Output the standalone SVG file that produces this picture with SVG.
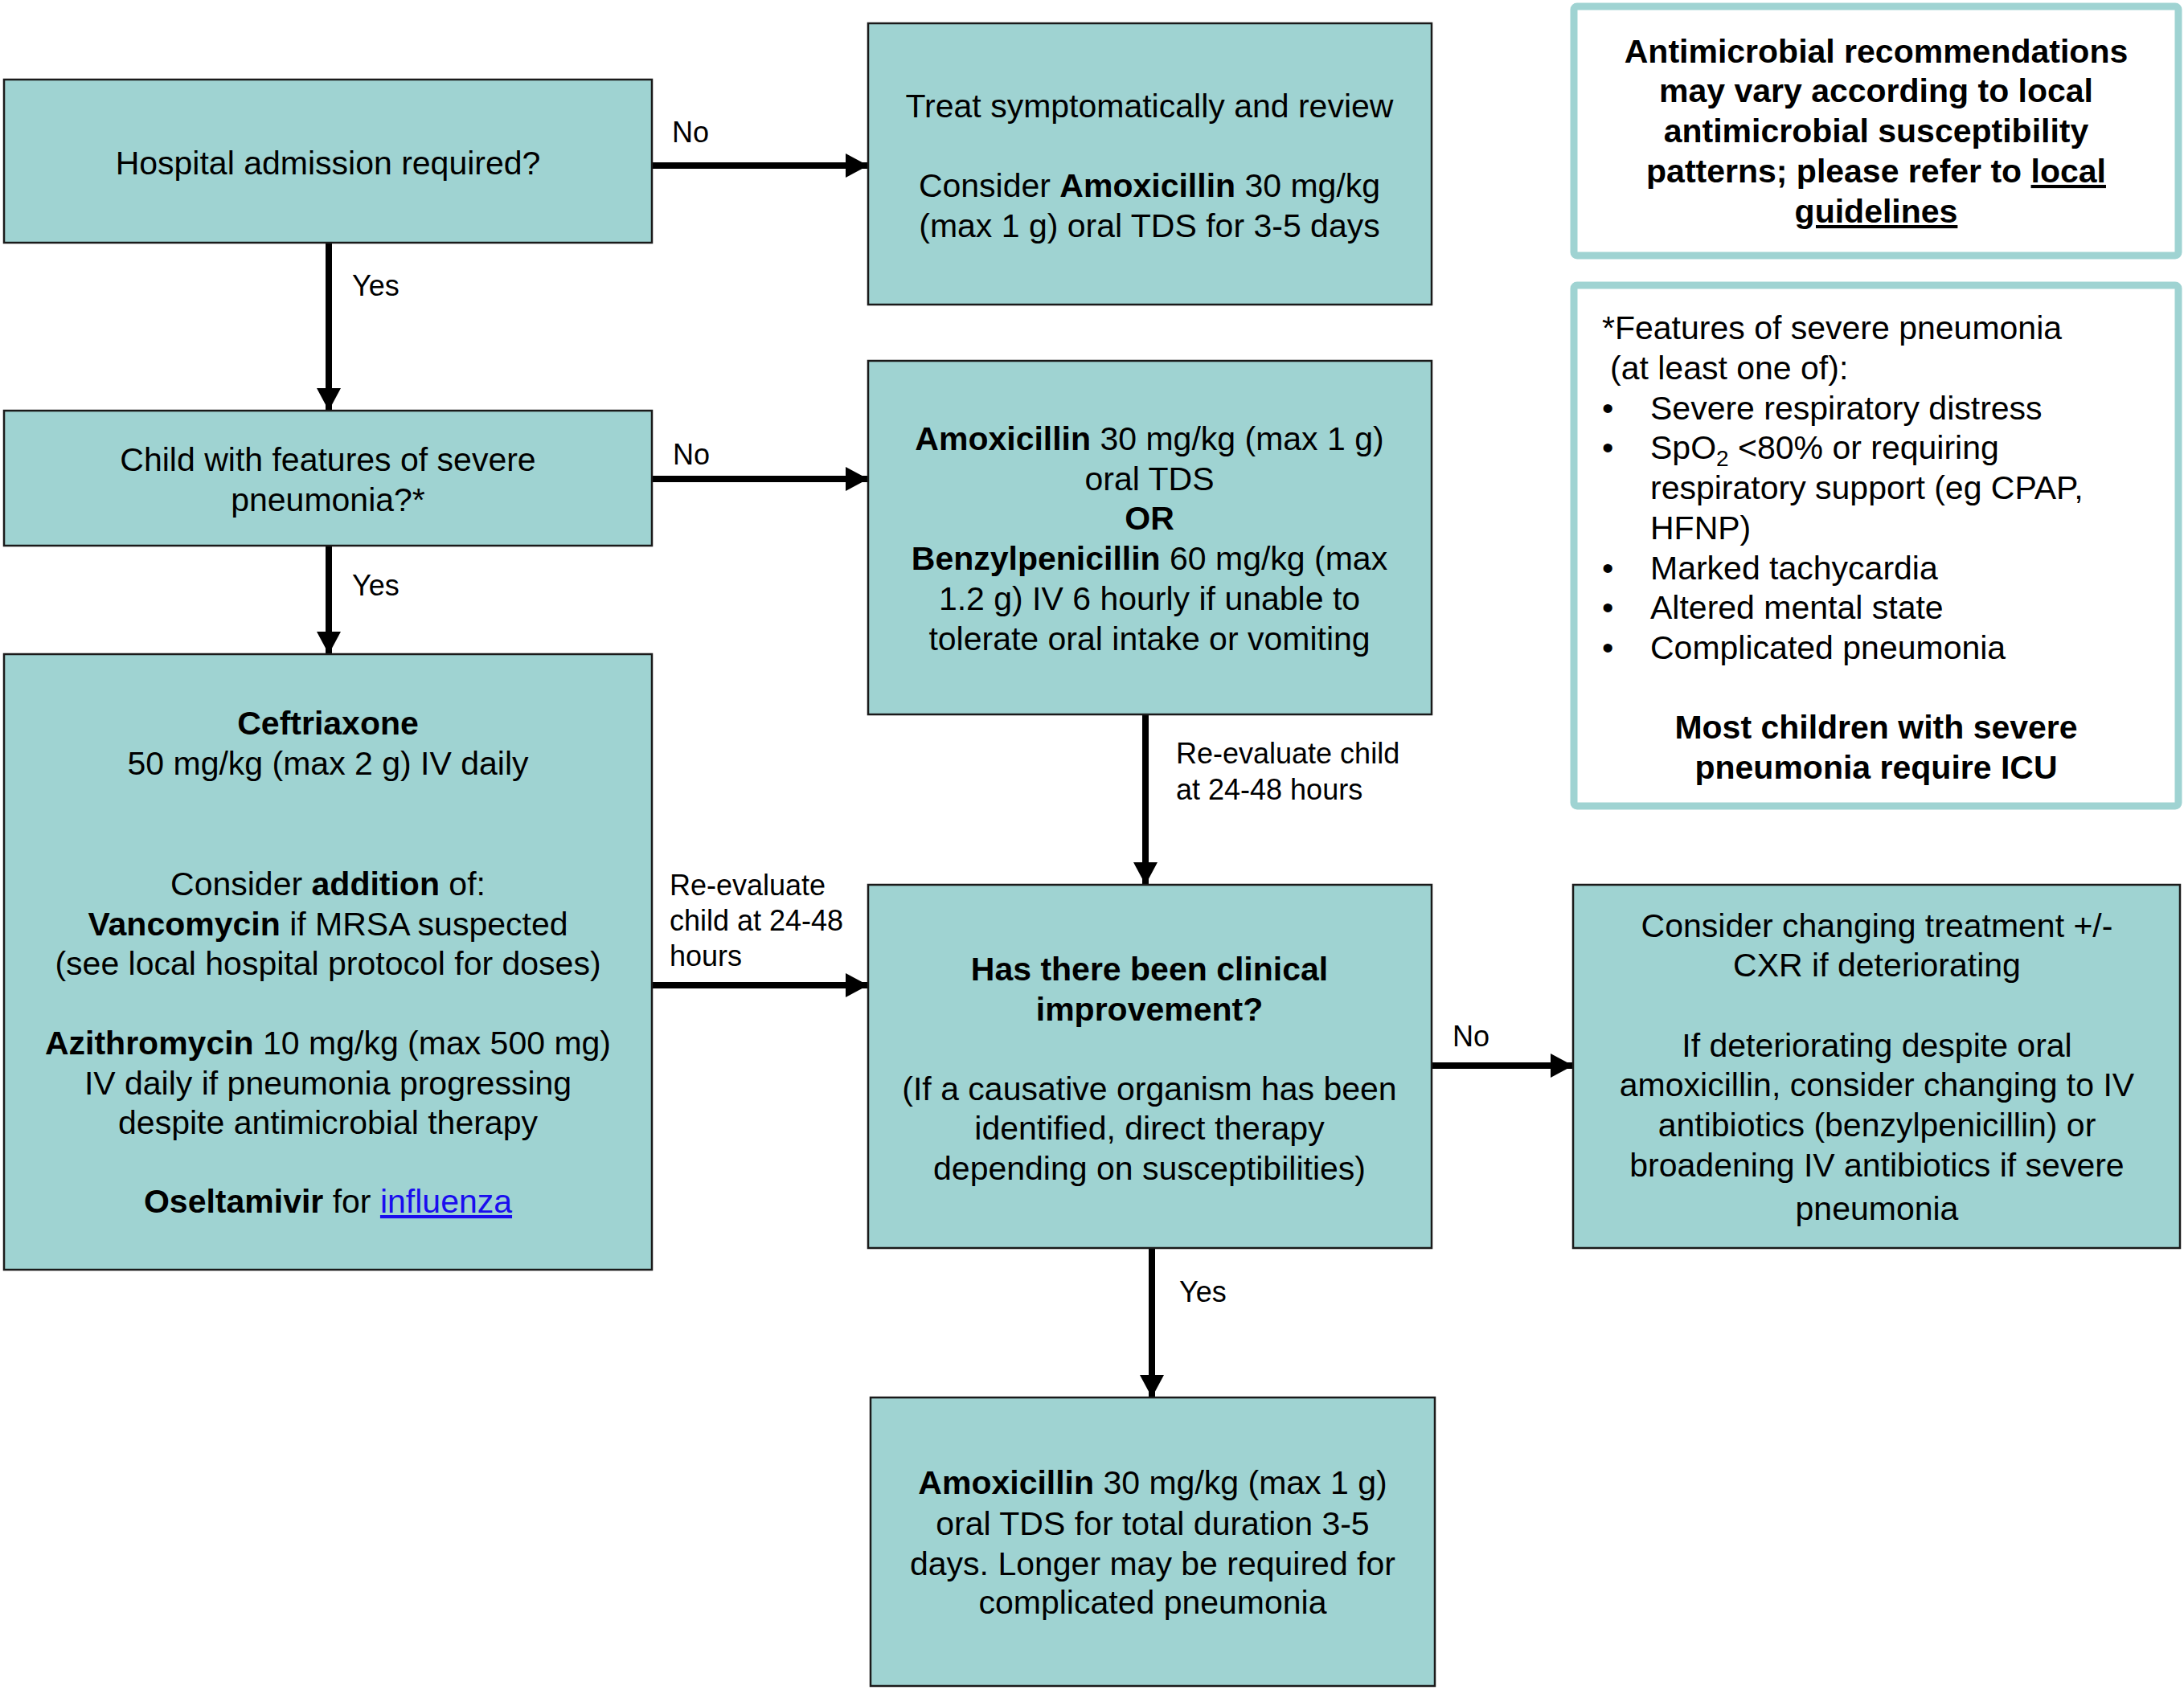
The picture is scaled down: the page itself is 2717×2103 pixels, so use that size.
<svg xmlns="http://www.w3.org/2000/svg" width="2717" height="2103" viewBox="0 0 2717 2103">
<style>
text{font-family:"Liberation Sans",Arial,sans-serif;fill:#000}
.bx{fill:#9fd3d2;stroke:#1a1a1a;stroke-width:2.5}
.nt{fill:#fff;stroke:#9fd3d2;stroke-width:9}
.t{font-size:41px;text-anchor:middle}
.tl{font-size:41px}
.lb{font-size:36px}
.b{font-weight:bold}
.u{text-decoration:underline}
.lk{fill:#1a0dee;text-decoration:underline}
.c{fill:none;stroke:#000;stroke-width:8}
</style>
<defs>
<marker id="ah" markerUnits="userSpaceOnUse" markerWidth="30" markerHeight="32" refX="28" refY="15" orient="auto">
<path d="M0,0 L28,15 L0,30 z" fill="#000"/>
</marker>
</defs>
<rect width="2717" height="2103" fill="#fff"/>

<g id="connectors">
<path class="c" d="M811,206 H1080" marker-end="url(#ah)"/>
<path class="c" d="M409,302 V511" marker-end="url(#ah)"/>
<path class="c" d="M811,596 H1080" marker-end="url(#ah)"/>
<path class="c" d="M409,679 V814" marker-end="url(#ah)"/>
<path class="c" d="M811,1226 H1080" marker-end="url(#ah)"/>
<path class="c" d="M1425,889 V1101" marker-end="url(#ah)"/>
<path class="c" d="M1781,1326 H1957" marker-end="url(#ah)"/>
<path class="c" d="M1433,1553 V1739" marker-end="url(#ah)"/>
<text class="lb" x="836" y="177">No</text>
<text class="lb" x="438" y="368">Yes</text>
<text class="lb" x="837" y="578">No</text>
<text class="lb" x="438" y="741">Yes</text>
<text class="lb" x="833" y="1114">Re-evaluate</text>
<text class="lb" x="833" y="1158">child at 24-48</text>
<text class="lb" x="833" y="1202">hours</text>
<text class="lb" x="1463" y="950">Re-evaluate child</text>
<text class="lb" x="1463" y="995">at 24-48 hours</text>
<text class="lb" x="1807" y="1302">No</text>
<text class="lb" x="1467" y="1620">Yes</text>
</g>

<g id="hospital-admission">
<rect class="bx" x="5" y="99" width="806" height="203"/>
<text class="t" x="408" y="217">Hospital admission required?</text>
</g>

<g id="severe-features">
<rect class="bx" x="5" y="511" width="806" height="168"/>
<text class="t" x="408" y="586">Child with features of severe</text>
<text class="t" x="408" y="636">pneumonia?*</text>
</g>

<g id="ceftriaxone">
<rect class="bx" x="5" y="814" width="806" height="766"/>
<text class="t" x="408" y="914"><tspan class="b">Ceftriaxone</tspan></text>
<text class="t" x="408" y="964">50 mg/kg (max 2 g) IV daily</text>
<text class="t" x="408" y="1114">Consider <tspan class="b">addition</tspan> of:</text>
<text class="t" x="408" y="1164"><tspan class="b">Vancomycin</tspan> if MRSA suspected</text>
<text class="t" x="408" y="1213">(see local hospital protocol for doses)</text>
<text class="t" x="408" y="1312"><tspan class="b">Azithromycin</tspan> 10 mg/kg (max 500 mg)</text>
<text class="t" x="408" y="1362">IV daily if pneumonia progressing</text>
<text class="t" x="408" y="1411">despite antimicrobial therapy</text>
<text class="t" x="408" y="1509"><tspan class="b">Oseltamivir</tspan> for <tspan class="lk">influenza</tspan></text>
</g>

<g id="treat-symptomatically">
<rect class="bx" x="1080" y="29" width="701" height="350"/>
<text class="t" x="1430" y="146">Treat symptomatically and review</text>
<text class="t" x="1430" y="245">Consider <tspan class="b">Amoxicillin</tspan> 30 mg/kg</text>
<text class="t" x="1430" y="295">(max 1 g) oral TDS for 3-5 days</text>
</g>

<g id="amoxicillin-or-benzyl">
<rect class="bx" x="1080" y="449" width="701" height="440"/>
<text class="t" x="1430" y="560"><tspan class="b">Amoxicillin</tspan> 30 mg/kg (max 1 g)</text>
<text class="t" x="1430" y="610">oral TDS</text>
<text class="t b" x="1430" y="659">OR</text>
<text class="t" x="1430" y="709"><tspan class="b">Benzylpenicillin</tspan> 60 mg/kg (max</text>
<text class="t" x="1430" y="759">1.2 g) IV 6 hourly if unable to</text>
<text class="t" x="1430" y="809">tolerate oral intake or vomiting</text>
</g>

<g id="clinical-improvement">
<rect class="bx" x="1080" y="1101" width="701" height="452"/>
<text class="t b" x="1430" y="1220">Has there been clinical</text>
<text class="t b" x="1430" y="1270">improvement?</text>
<text class="t" x="1430" y="1369">(If a causative organism has been</text>
<text class="t" x="1430" y="1418">identified, direct therapy</text>
<text class="t" x="1430" y="1468">depending on susceptibilities)</text>
</g>

<g id="consider-changing">
<rect class="bx" x="1957" y="1101" width="755" height="452"/>
<text class="t" x="2335" y="1166">Consider changing treatment +/-</text>
<text class="t" x="2335" y="1215">CXR if deteriorating</text>
<text class="t" x="2335" y="1315">If deteriorating despite oral</text>
<text class="t" x="2335" y="1364">amoxicillin, consider changing to IV</text>
<text class="t" x="2335" y="1414">antibiotics (benzylpenicillin) or</text>
<text class="t" x="2335" y="1464">broadening IV antibiotics if severe</text>
<text class="t" x="2335" y="1518">pneumonia</text>
</g>

<g id="amoxicillin-total">
<rect class="bx" x="1083" y="1739" width="702" height="359"/>
<text class="t" x="1434" y="1859"><tspan class="b">Amoxicillin</tspan> 30 mg/kg (max 1 g)</text>
<text class="t" x="1434" y="1910">oral TDS for total duration 3-5</text>
<text class="t" x="1434" y="1960">days. Longer may be required for</text>
<text class="t" x="1434" y="2008">complicated pneumonia</text>
</g>

<g id="note-local-guidelines">
<rect class="nt" x="1958" y="8" width="752" height="310" rx="4"/>
<text class="t b" x="2334" y="78">Antimicrobial recommendations</text>
<text class="t b" x="2334" y="127">may vary according to local</text>
<text class="t b" x="2334" y="177">antimicrobial susceptibility</text>
<text class="t b" x="2334" y="227">patterns; please refer to <tspan class="u">local</tspan></text>
<text class="t b u" x="2334" y="277">guidelines</text>
</g>

<g id="note-severe-features">
<rect class="nt" x="1958" y="355" width="752" height="648" rx="4"/>
<text class="tl" x="1993" y="422">*Features of severe pneumonia</text>
<text class="tl" x="2003" y="472">(at least one of):</text>
<text class="tl" x="1993" y="522">•</text>
<text class="tl" x="2053" y="522">Severe respiratory distress</text>
<text class="tl" x="1993" y="571">•</text>
<text class="tl" x="2053" y="571">SpO<tspan font-size="28" dy="9">2</tspan><tspan dy="-9"> &lt;80% or requiring</tspan></text>
<text class="tl" x="2053" y="621">respiratory support (eg CPAP,</text>
<text class="tl" x="2053" y="671">HFNP)</text>
<text class="tl" x="1993" y="721">•</text>
<text class="tl" x="2053" y="721">Marked tachycardia</text>
<text class="tl" x="1993" y="770">•</text>
<text class="tl" x="2053" y="770">Altered mental state</text>
<text class="tl" x="1993" y="820">•</text>
<text class="tl" x="2053" y="820">Complicated pneumonia</text>
<text class="t b" x="2334" y="919">Most children with severe</text>
<text class="t b" x="2334" y="969">pneumonia require ICU</text>
</g>
</svg>
